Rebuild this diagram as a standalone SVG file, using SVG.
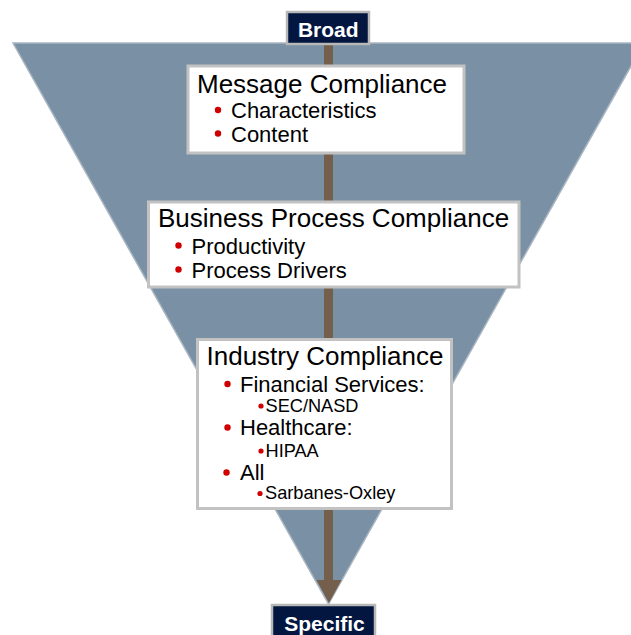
<svg xmlns="http://www.w3.org/2000/svg" width="631" height="635" viewBox="0 0 631 635">
  <style>
    .funnel { fill: #7990a5; stroke: #a9b5c1; stroke-width: 1.5; }
    .stem { fill: #745f4c; }
    .tag rect { fill: #02163f; stroke: #b8b8b8; stroke-width: 2.5; }
    .tag text { font-family: "Liberation Sans", Arial, sans-serif; font-weight: bold; font-size: 21px; fill: #ffffff; text-anchor: middle; }
    .box rect { fill: #ffffff; stroke: #c2c2c2; stroke-width: 3; }
    .title { font-family: "Liberation Sans", Arial, sans-serif; font-size: 26px; fill: #000000; }
    .item { font-family: "Liberation Sans", Arial, sans-serif; font-size: 22px; fill: #000000; }
    .sub { font-family: "Liberation Sans", Arial, sans-serif; font-size: 18.2px; fill: #000000; }
    .dot { fill: #d00000; }
  </style>

  <!-- background funnel -->
  <polygon class="funnel" points="13,43 644,43 328.5,604"/>

  <!-- connector: broad to specific -->
  <g id="connectors">
    <rect class="stem" x="324" y="44" width="9" height="537"/>
    <polygon class="stem" points="316.5,580 341.5,580 329,603"/>
  </g>

  <g id="broad" class="tag">
    <rect x="287" y="12" width="82" height="32"/>
    <text x="328.3" y="36.5">Broad</text>
  </g>

  <g id="specific" class="tag">
    <rect x="272" y="605" width="103" height="40"/>
    <text x="324.5" y="630.5">Specific</text>
  </g>

  <g id="message-compliance" class="box">
    <rect x="188" y="66" width="276" height="87"/>
    <text class="title" x="197" y="93">Message Compliance</text>
    <circle class="dot" cx="218" cy="110" r="3.2"/>
    <text class="item" x="231" y="118">Characteristics</text>
    <circle class="dot" cx="218" cy="133.5" r="3.2"/>
    <text class="item" x="231" y="141.5">Content</text>
  </g>

  <g id="business-process-compliance" class="box">
    <rect x="148.5" y="202" width="370.5" height="85"/>
    <text class="title" x="158" y="227">Business Process Compliance</text>
    <circle class="dot" cx="178.5" cy="245.5" r="3.2"/>
    <text class="item" x="191.5" y="253.5">Productivity</text>
    <circle class="dot" cx="178.5" cy="269.5" r="3.2"/>
    <text class="item" x="191.5" y="277.5">Process Drivers</text>
  </g>

  <g id="industry-compliance" class="box">
    <rect x="197.5" y="339.5" width="254" height="169"/>
    <text class="title" x="206.5" y="365">Industry Compliance</text>
    <circle class="dot" cx="227.5" cy="384" r="3.2"/>
    <text class="item" x="240" y="391.5">Financial Services:</text>
    <circle class="dot" cx="261" cy="406" r="2.6"/>
    <text class="sub" x="265.5" y="411.5">SEC/NASD</text>
    <circle class="dot" cx="227.5" cy="427.5" r="3.2"/>
    <text class="item" x="240" y="435">Healthcare:</text>
    <circle class="dot" cx="261" cy="451" r="2.6"/>
    <text class="sub" x="265.5" y="456.5">HIPAA</text>
    <circle class="dot" cx="226.5" cy="472.5" r="3.2"/>
    <text class="item" x="240" y="480">All</text>
    <circle class="dot" cx="260" cy="493.5" r="2.6"/>
    <text class="sub" x="265" y="499.3">Sarbanes-Oxley</text>
  </g>
</svg>
